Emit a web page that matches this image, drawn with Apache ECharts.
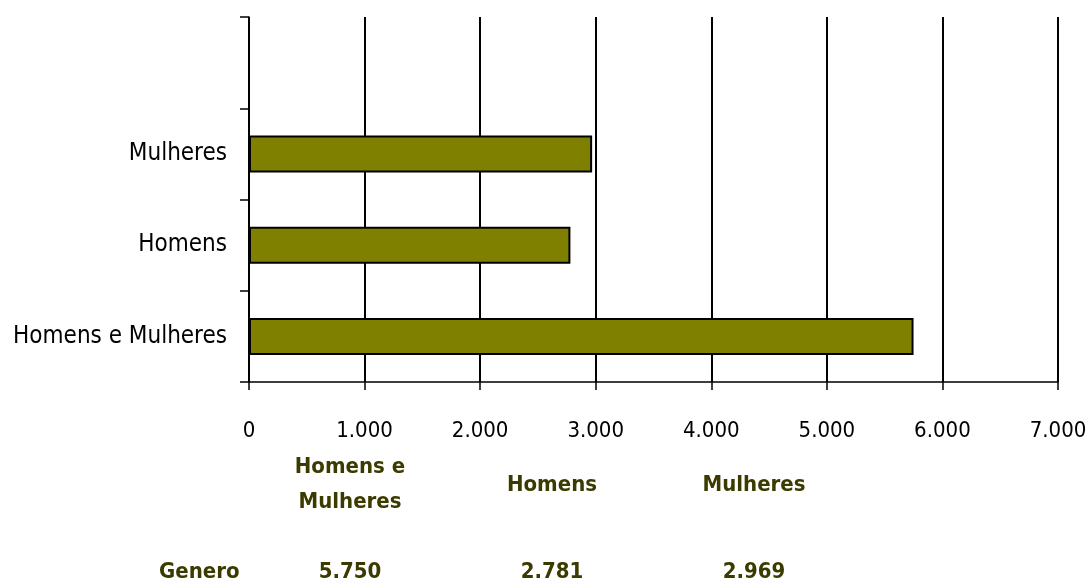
<!DOCTYPE html>
<html>
<head>
<meta charset="utf-8">
<script src="https://cdn.jsdelivr.net/npm/echarts@6/dist/echarts.min.js"></script>
<style>
html,body{margin:0;padding:0;background:#fff;}
#chart{width:1089px;height:578px;}
</style>
</head>
<body>
<div id="chart"></div>
<script>
// categorias (de baixo para cima) e valores
var categorias = ['Homens e Mulheres', 'Homens', 'Mulheres'];
var cabecalhos = ['Homens e\nMulheres', 'Homens', 'Mulheres'];
var valores = [5750, 2781, 2969];
var rotuloLinha = 'Genero';
var eixoMin = 0, eixoMax = 7000, eixoPasso = 1000;

function milhar(v) {
	return String(v).replace(/\B(?=(\d{3})+(?!\d))/g, '.');
}

var fonte = 'DejaVu Sans Condensed';
var corTabela = '#3b3b00';

var myChart = echarts.init(document.getElementById('chart'));
var option = {
	animation: false,
	grid: [
		{ left: 249, right: 31, top: 17, bottom: 196, outerBoundsMode: 'none' },
		// grade invisivel para a tabela de dados
		{ left: 249, width: 606, top: 472, height: 10, outerBoundsMode: 'none' }
	],
	xAxis: [{
		type: 'value',
		gridIndex: 0,
		min: eixoMin,
		max: eixoMax,
		interval: eixoPasso,
		axisLine: { show: true, lineStyle: { color: '#000', width: 1.5 } },
		axisTick: { show: true, length: 8, lineStyle: { color: '#000', width: 1.5 } },
		axisLabel: {
			color: '#000', fontFamily: fonte, fontSize: 22, margin: 38,
			formatter: function (v) { return milhar(v); }
		},
		splitLine: { show: true, lineStyle: { color: '#000', width: 2 } }
	}, {
		type: 'category',
		gridIndex: 1,
		position: 'bottom',
		data: cabecalhos,
		axisLine: { show: false },
		axisTick: { show: false },
		axisLabel: {
			color: corTabela, fontFamily: fonte, fontSize: 22, fontWeight: 'bold',
			lineHeight: 35, verticalAlign: 'middle', margin: 3, interval: 0
		}
	}, {
		type: 'category',
		gridIndex: 1,
		position: 'bottom',
		offset: 87,
		data: valores.map(milhar),
		axisLine: { show: false },
		axisTick: { show: false },
		axisLabel: {
			color: corTabela, fontFamily: fonte, fontSize: 22, fontWeight: 'bold',
			verticalAlign: 'middle', margin: 3, interval: 0
		}
	}],
	yAxis: [{
		type: 'category',
		gridIndex: 0,
		data: categorias.concat(['']),
		axisLine: { show: true, lineStyle: { color: '#000', width: 1.5 } },
		axisTick: { show: true, length: 9, lineStyle: { color: '#000', width: 1.5 } },
		axisLabel: { color: '#000', fontFamily: fonte, fontSize: 24, margin: 22 },
		splitLine: { show: false }
	}, {
		type: 'value',
		gridIndex: 1,
		show: false
	}],
	series: [{
		type: 'bar',
		xAxisIndex: 0,
		yAxisIndex: 0,
		data: valores,
		barWidth: 37,
		itemStyle: { color: '#808000', borderColor: '#000', borderWidth: 2 }
	}],
	graphic: [{
		type: 'text',
		left: 159,
		top: 561,
		style: { text: rotuloLinha, fill: corTabela, font: 'bold 22px "DejaVu Sans Condensed"' }
	}]
};
myChart.setOption(option);
</script>
</body>
</html>
